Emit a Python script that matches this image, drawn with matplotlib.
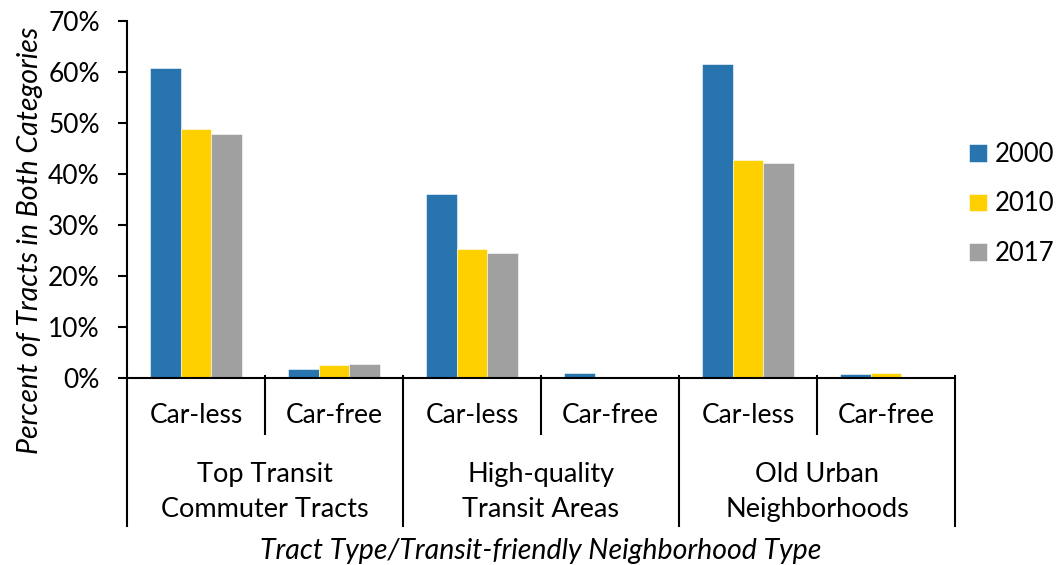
import matplotlib
matplotlib.use("Agg")
import matplotlib.pyplot as plt
import matplotlib.transforms as mtransforms
import numpy as np

plt.rcParams['font.family'] = ['Lato', 'DejaVu Sans']

# data
years = ['2000', '2010', '2017']
sub_labels = ['Car-less', 'Car-free'] * 3
group_labels = ['Top Transit\nCommuter Tracts', 'High-quality\nTransit Areas', 'Old Urban\nNeighborhoods']
pct_2000 = [60.7, 1.75, 36.1, 1.0, 61.5, 0.85]
pct_2010 = [48.8, 2.5, 25.2, 0.0, 42.7, 0.95]
pct_2017 = [47.9, 2.7, 24.6, 0.0, 42.1, 0.0]
colors = ['#2874AE', '#FFD000', '#A0A0A0']

fig = plt.figure(figsize=(10.56, 5.65), dpi=100)
ax = fig.add_axes([127 / 1056, 1 - 378 / 565, (955 - 127) / 1056, (378 - 21) / 565])

x = np.arange(len(sub_labels)) + 0.5
w = 0.222
for i, (vals, yr, col) in enumerate(zip([pct_2000, pct_2010, pct_2017], years, colors)):
    ax.bar(x + (i - 1) * w, vals, width=w, color=col, label=yr,
           edgecolor='white', linewidth=0.4)

ax.set_xlim(0, len(sub_labels))
ax.set_ylim(0, 70)
ax.set_yticks(np.arange(0, 71, 10))
ax.set_yticklabels([f'{v}%' for v in range(0, 71, 10)])
ax.tick_params(axis='y', labelsize=19, length=6.5, width=1.5, pad=13)
ax.set_xticks([])
for s in ['top', 'right']:
    ax.spines[s].set_visible(False)
for s in ['left', 'bottom']:
    ax.spines[s].set_linewidth(1.5)

# multi-level category axis
trans = mtransforms.blended_transform_factory(ax.transData, ax.transAxes)
for k in range(len(sub_labels) + 1):
    bottom = -0.415 if k % 2 == 0 else -0.157
    ax.plot([k, k], [0.006, bottom], color='black', lw=1.5, transform=trans, clip_on=False)
for k, lab in enumerate(sub_labels):
    ax.text(k + 0.5, -0.104, lab, transform=trans, ha='center', va='center', fontsize=19)
for g, lab in enumerate(group_labels):
    ax.text(2 * g + 1, -0.318, lab, transform=trans, ha='center', va='center',
            fontsize=19.5, linespacing=1.5)

ax.text(0.5, -0.485, 'Tract Type/Transit-friendly Neighborhood Type', transform=ax.transAxes,
        ha='center', va='center', fontsize=20.5, style='italic')
fig.text(30 / 1056, 1 - 240 / 565, 'Percent of Tracts in Both Categories', rotation=90,
         ha='center', va='center', fontsize=20.5, style='italic')

fig.legend(loc='center left', bbox_to_anchor=(969 / 1056, 1 - 204 / 565), frameon=False,
           fontsize=18.5, handlelength=0.7, handleheight=0.7, handletextpad=0.3,
           labelspacing=0.95, borderpad=0, borderaxespad=0)

fig.savefig('out.png', dpi=100)
